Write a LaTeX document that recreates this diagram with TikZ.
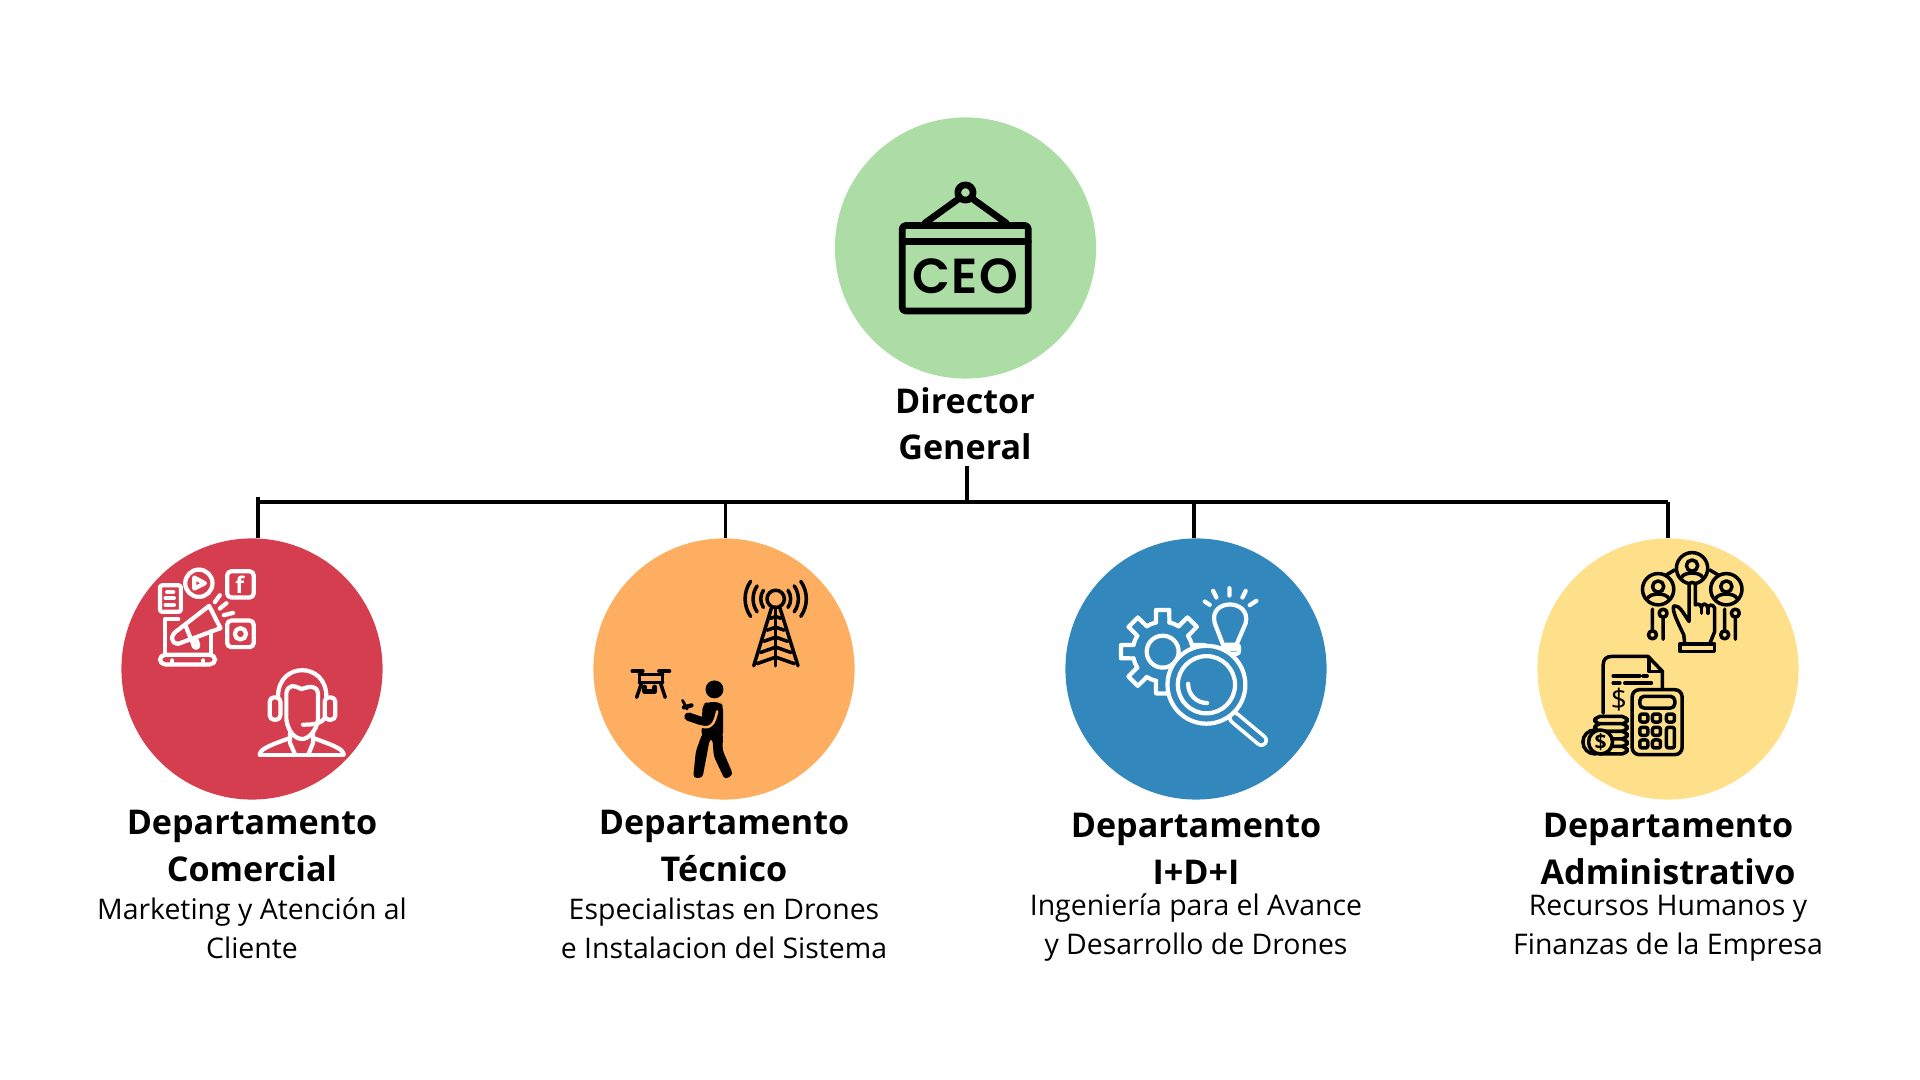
\documentclass[tikz,border=0pt]{standalone}
\usepackage{fontspec}
\setmainfont{Open Sans}
\newfontfamily\ceofont[UprightFont=* SemiBold, LetterSpace=3]{Poppins}
\usepackage{xcolor}
\usetikzlibrary{positioning,calc}
\definecolor{ceogreen}{HTML}{ABDDA4}
\definecolor{comred}{HTML}{D53E4F}
\definecolor{tecorange}{HTML}{FDAE61}
\definecolor{idiblue}{HTML}{3288BD}
\definecolor{admyellow}{HTML}{FEE08B}
\tikzset{
  deptcircle/.style={circle, minimum size=2.61cm, inner sep=0pt},
  titlelabel/.style={font=\fontsize{9.7}{13.2}\selectfont\bfseries, align=center, inner sep=0pt},
  sublabel/.style={font=\fontsize{8.08}{11.1}\selectfont, align=center, inner sep=0pt},
  wire/.style={line width=1.1pt},
  zoomed/.style={x=0.003333cm, y=-0.003333cm},
  iconw/.style={draw=white, line width=1.2pt, line cap=round, line join=round},
  iconk/.style={draw=black, line width=1pt, line cap=round, line join=round},
}
\begin{document}
\begin{tikzpicture}[x=0.01cm, y=-0.01cm]
  \useasboundingbox (0,0) rectangle (1920,1080);

  \node[deptcircle, fill=ceogreen] (ceo) at (965.5,248) {};
  \node[deptcircle, fill=comred] (com) at (252,669) {};
  \node[deptcircle, fill=tecorange] (tec) at (724,669) {};
  \node[deptcircle, fill=idiblue] (idi) at (1196,669) {};
  \node[deptcircle, fill=admyellow] (adm) at (1668,669) {};

  \node[titlelabel] (ceotitle) at (965,424) {Director\\General};
  \node[titlelabel] (comtitle) at (252,846) {Departamento\\Comercial};
  \node[titlelabel] (tectitle) at (724,846) {Departamento\\Técnico};
  \node[titlelabel] (idititle) at (1196,849) {Departamento\\I+D+I};
  \node[titlelabel] (admtitle) at (1668,849) {Departamento\\Administrativo};

  \node[sublabel] (comsub) at (252,928) {Marketing y Atención al\\Cliente};
  \node[sublabel] (tecsub) at (724,928) {Especialistas en Drones\\e Instalacion del Sistema};
  \node[sublabel] (idisub) at (1196,928) {Ingeniería para el Avance\\y Desarrollo de Drones};
  \node[sublabel] (admsub) at (1668,928) {Recursos Humanos y\\Finanzas de la Empresa};

  \coordinate (busa) at (258,497);
  \coordinate (busl) at (258,502);
  \coordinate (busb) at (725.5,502);
  \coordinate (busm) at (967,502);
  \coordinate (busc) at (1194,502);
  \coordinate (busr) at (1668,502);
  \coordinate (ceoend) at (967,466);

  \draw[wire] (busl) -- (busr);
  \draw[wire] (ceoend) -- (busm);
  \draw[wire] (busa) -- (busa |- com.north);
  \draw[wire] (busb) -- (busb |- tec.north);
  \draw[wire] (busc) -- (busc |- idi.north);
  \draw[wire] (busr) -- (busr |- adm.north);

  \begin{scope}[shift={(820,100)}, zoomed, iconk, line width=1.9pt]
    \draw[rounded corners=1pt] (247,377) rectangle (626,634);
    \draw (247,425) -- (626,425);
    \draw (315,370) -- (415,298);
    \draw (460,298) -- (560,370);
    \draw (437,278) circle (23);
    \node[font=\fontsize{14}{14}\ceofont, inner sep=0pt, text=black] (ceoword) at (437,530) {CEO};
  \end{scope}

  \begin{scope}[shift={(110,530)}, zoomed, iconw]
    \draw (267,160) circle (41);
    \draw (253,143) -- (253,176) -- (285,160) -- cycle;
    \draw[rounded corners=0.7pt] (150,166) rectangle (213,246);
    \draw (172,187) -- (190,187) (167,205) -- (192,205) (167,225) -- (192,225);
    \draw[rounded corners=1.2pt] (352,124) rectangle (432,203);
    \node[font=\fontsize{6.5}{6.5}\selectfont\bfseries, inner sep=0pt, text=white] (fbmark) at (390,165) {f};
    \draw (315,217) -- (330,196) (330,236) -- (350,220) (342,256) -- (370,249);
    \draw (298,228) -- (332,295) -- (205,342) .. controls (180,340) and (180,315) .. (205,300) -- cycle;
    \draw (228,290) -- (240,320);
    \draw (245,328) -- (252,350) .. controls (258,358) and (268,352) .. (264,342) -- (258,324);
    \draw (205,268) -- (165,268) -- (165,375);
    \draw (303,305) -- (303,375);
    \draw[rounded corners=1.5pt] (150,375) rectangle (316,404);
    \draw (187,392) -- (187,404) (280,392) -- (280,404);
    \draw[rounded corners=1.2pt] (352,272) rectangle (432,352);
    \draw (392,312) circle (17);
    \draw (505,500) .. controls (505,395) and (650,395) .. (650,500);
    \draw[rounded corners=1.2pt] (480,503) rectangle (512,570);
    \draw[rounded corners=1.2pt] (645,503) rectangle (677,570);
    \draw (530,570) -- (530,490) .. controls (535,465) and (550,465) .. (575,478) .. controls (600,470) and (620,465) .. (625,490) -- (625,570) .. controls (620,605) and (595,628) .. (578,628) .. controls (555,628) and (535,605) .. (530,570);
    \draw (645,565) .. controls (635,580) and (620,585) .. (580,585);
    \draw (541,610) -- (541,640) -- (555,672);
    \draw (610,610) -- (610,640) -- (597,672);
    \draw (450,675) -- (702,675);
    \draw (450,672) .. controls (455,660) and (465,652) .. (541,625);
    \draw (702,672) .. controls (697,660) and (687,652) .. (610,625);
  \end{scope}

  \begin{scope}[shift={(590,530)}, zoomed, iconk]
    \draw (558,207) circle (26);
    \foreach \r in {45,68,92} {
      \draw ($(558,207)+(145:\r)$) arc[start angle=145, end angle=215, radius=\r];
      \draw ($(558,207)+(-35:\r)$) arc[start angle=-35, end angle=35, radius=\r];
    }
    \draw (546,232) -- (492,408);
    \draw (570,232) -- (625,408);
    \draw (558,232) -- (558,408);
    \foreach \y/\d in {260/16, 292/26, 322/36, 352/46, 382/56} {
      \draw (558-\d,\y+\d*0.35) -- (558,\y) -- (558+\d,\y+\d*0.35);
    }
    \draw[line width=1.2pt] (128,424) -- (158,424) (208,424) -- (238,424);
    \draw (148,424) -- (148,460) (218,424) -- (218,460);
    \draw (148,434) -- (218,434) (148,458) -- (218,458);
    \draw (155,460) -- (140,503) (212,460) -- (226,503);
    \draw[line width=1.4pt] (165,472) -- (165,485) -- (195,485) -- (195,472);
    \fill (374,479) circle (27);
    \fill[rounded corners=1.5pt] (338,525) -- (352,517) -- (392,517) -- (400,530) -- (400,625) -- (335,625) -- cycle;
    \fill[rounded corners=1pt] (338,610) -- (400,610) -- (398,660) -- (430,735) -- (405,750) -- (372,680) -- (368,628) -- (360,628) -- (338,745) -- (310,745) -- (318,665) -- cycle;
    \draw[line width=2.4pt] (296,561) -- (352,580);
    \draw[tecorange, line width=0.7pt] (332,590) .. controls (365,600) and (375,580) .. (382,545);
    \draw[line width=0.8pt] (278,512) -- (292,538);
    \draw[line width=1.2pt] (282,533) -- (305,527);
  \end{scope}

  \begin{scope}[shift={(1162.67,651.67)}, zoomed, iconw]
    \draw (0,0) circle (48);
    \foreach \a in {0,45,...,315} {
      \draw (\a-13:90) -- (\a-9:127) -- (\a+9:127) -- (\a+13:90);
      \draw (\a+13:90) arc[start angle=\a+13, end angle=\a+32, radius=90];
    }
  \end{scope}
  \begin{scope}[shift={(1060,530)}, zoomed, iconw]
    \draw (490,345) -- (465,280) .. controls (445,205) and (575,205) .. (558,280) -- (530,345);
    \draw[rounded corners=0.7pt] (490,345) rectangle (538,372);
    \draw (495,356) -- (530,356);
    \draw (435,215) -- (450,225) (460,183) -- (470,203) (509,175) -- (509,197) (558,183) -- (548,203) (590,213) -- (570,226);
    \draw[line width=3.8pt] (525,565) -- (605,632);
    \draw[idiblue, line width=1.7pt] (525,565) -- (605,632);
    \draw[fill=idiblue] (440,465) circle (117);
    \draw (440,465) circle (86);
    \draw (385,462) .. controls (385,495) and (410,520) .. (442,520);
  \end{scope}

  \begin{scope}[shift={(1530,530)}, zoomed, iconk]
    \foreach \x/\y in {487/115, 385/178, 590/178} {
      \draw (\x,\y) circle (47);
      \draw (\x,\y-8) circle (17);
      \draw (\x-32,\y+28) .. controls (\x-25,\y+10) and (\x+25,\y+10) .. (\x+32,\y+28);
    }
    \draw (435,120) -- (410,135) (540,120) -- (565,135);
    \draw[fill=admyellow] (478,165) -- (478,275) .. controls (460,250) and (450,225) .. (432,228) .. controls (425,240) and (445,280) .. (462,315) -- (465,342) -- (540,342) -- (555,305) -- (555,235) .. controls (550,220) and (535,225) .. (535,235) .. controls (530,218) and (517,220) .. (515,232) .. controls (510,220) and (500,222) .. (497,225) -- (497,165) .. controls (495,155) and (480,155) .. (478,165) -- cycle;
    \draw (515,232) -- (515,250) (535,235) -- (535,250);
    \draw (450,343) rectangle (555,365);
    \draw (368,238) -- (368,302) (368,315) circle (12);
    \draw (400,265) -- (400,328) (400,250) circle (12);
    \draw (585,238) -- (585,302) (585,315) circle (12);
    \draw (617,265) -- (617,328) (617,250) circle (12);
    \draw (220,550) -- (220,405) .. controls (220,388) and (230,380) .. (245,380) -- (355,380) -- (398,425) -- (398,478);
    \draw (358,385) -- (358,425) -- (398,425);
    \draw (250,438) -- (330,438) (340,438) -- (352,438);
    \draw (250,460) -- (270,460) (285,460) -- (365,460);
    \node[font=\fontsize{8}{8}\selectfont, inner sep=0pt, text=black] (bigdollar) at (267,510) {\$};
    \draw[fill=admyellow, rounded corners=2pt] (307,480) rectangle (457,675);
    \draw[rounded corners=1.2pt] (330,500) rectangle (435,535);
    \foreach \x in {342,380,422} {
      \draw[rounded corners=0.6pt] (\x-12,553) rectangle (\x+12,577);
    }
    \foreach \x in {342,380} {
      \draw[rounded corners=0.6pt] (\x-12,593) rectangle (\x+12,617);
      \draw[rounded corners=0.6pt] (\x-12,631) rectangle (\x+12,655);
    }
    \draw[rounded corners=0.6pt] (410,593) rectangle (434,655);
    \foreach \y in {560,582,605,628,650} {
      \draw[fill=admyellow, rounded corners=1.5pt] (195,\y) rectangle (292,\y+23);
    }
    \draw[fill=admyellow] (195,637) circle (36);
    \draw[fill=admyellow] (212,637) circle (36);
    \node[font=\fontsize{6}{6}\selectfont\bfseries, inner sep=0pt, text=black] (coindollar) at (212,637) {\$};
  \end{scope}
\end{tikzpicture}
\end{document}
